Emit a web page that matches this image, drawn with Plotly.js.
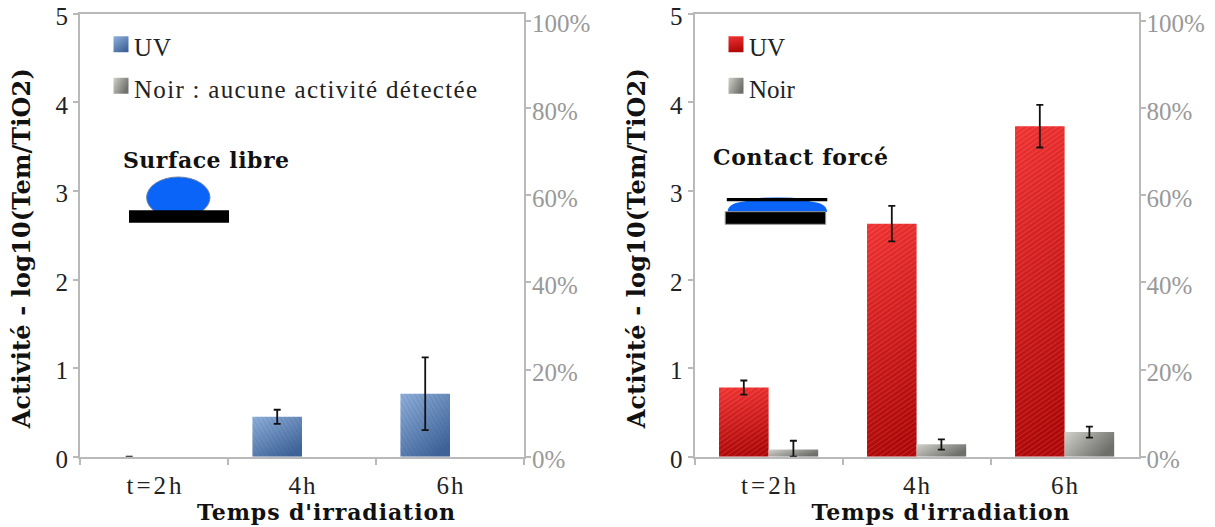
<!DOCTYPE html>
<html><head><meta charset="utf-8">
<script src="https://cdn.plot.ly/plotly-3.0.1.min.js"></script>
<style>html,body{margin:0;padding:0;background:#fff}#c{width:1215px;height:527px}</style>
</head><body><div id="c"></div>
<script>
const categories = ['t=2h', '4h', '6h'];
const libreUV = [0, 0.45, 0.71];
const libreUVErr = [0, 0.08, 0.41];
const libreNoir = [0, 0, 0];
const forceUV = [0.78, 2.63, 3.73];
const forceUVErr = [0.08, 0.2, 0.24];
const forceNoir = [0.08, 0.14, 0.28];
const forceNoirErrUp = [0.1, 0.055, 0.06];
const forceNoirErrDown = [0.08, 0.06, 0.065];
const yTicks = [0, 1, 2, 3, 4, 5];
const pctTicks = [0, 20, 40, 60, 80, 100];

const W = 1215, H = 527;
const SERIF = '"Liberation Serif", serif';
const BOLD = '"DejaVu Serif", serif';
const AXC = '#b9b9b9';
const px = v => v / W, py = v => 1 - v / H;
const TOP = 13.7, BOT = 456.7;
const errStyle = {color: '#111', thickness: 1.8, width: 3.5};

function bar(name, y, xa, ya, color, legend, group, err) {
  return {type: 'bar', name, x: categories, y, xaxis: xa, yaxis: ya, legend, legendgroup: group, cliponaxis: false,
    marker: {color, line: {width: 0}}, hoverinfo: 'x+y', error_y: err};
}
function arr(up, down) { return Object.assign({type: 'data', array: up, arrayminus: down || up, visible: true}, errStyle); }
function pctAnchor(xa, ya) {
  return {type: 'scatter', mode: 'lines', x: categories, y: [null, null, null], xaxis: xa, yaxis: ya, showlegend: false, hoverinfo: 'skip', line: {width: 0}};
}
const data = [
  bar('UV', libreUV, 'x', 'y', '#6a8dbd', 'legend', 'a', arr(libreUVErr)),
  bar('Noir : aucune activité détectée', libreNoir, 'x', 'y', '#a5a5a2', 'legend', 'b'),
  bar('UV', forceUV, 'x2', 'y3', '#d42222', 'legend2', 'c', arr(forceUVErr)),
  bar('Noir', forceNoir, 'x2', 'y3', '#a5a5a2', 'legend2', 'd', arr(forceNoirErrUp, forceNoirErrDown)),
  pctAnchor('x', 'y2'),
  pctAnchor('x2', 'y4')
];
const grads = ['gBlue', 'gGray', 'gRed', 'gGray'];
const stripes = ['sDark', null, 'sLight', null];

const xBase = {type: 'category', categories, categoryorder: 'array', categoryarray: categories, range: [-0.5, 2.5], layer: 'below traces',
  showline: true, linecolor: AXC, linewidth: 2, mirror: true, ticks: 'outside', tickson: 'boundaries', ticklen: 6, tickwidth: 2, tickcolor: AXC,
  showgrid: false, zeroline: false, tickfont: {family: SERIF, size: 25, color: '#222'}, ticklabelstandoff: 5, automargin: false,
  title: {text: "Temps d'irradiation", font: {family: BOLD, size: 22, weight: 700, color: '#111'}, standoff: 2}};
const yLeft = {range: [0, 5], tickmode: 'array', tickvals: yTicks, ticktext: yTicks.map(String), showline: true, linecolor: AXC, linewidth: 2,
  ticks: 'outside', ticklen: 5, tickwidth: 2, tickcolor: AXC, showgrid: false, zeroline: false, tickfont: {family: SERIF, size: 25, color: '#222'},
  automargin: false, title: {text: 'Activité - log10(Tem/TiO2)', font: {family: BOLD, size: 24, weight: 700, color: '#111'}, standoff: 18}};
const yRight = {range: [0, 101.6], tickmode: 'array', tickvals: pctTicks, ticktext: pctTicks.map(v => v + '%'), side: 'right', showline: true, linecolor: AXC, linewidth: 2,
  ticks: 'outside', ticklen: 5, tickwidth: 2, tickcolor: AXC, showgrid: false, zeroline: false, tickfont: {family: SERIF, size: 25, color: '#999'}, ticklabelstandoff: -4, automargin: false};

const yDom = [py(BOT), py(TOP)];
const blue = '#0a64f8';
const shapes = [
  {type: 'circle', xref: 'paper', yref: 'paper', x0: px(146.6), x1: px(210), y0: py(177), y1: py(218), fillcolor: blue, line: {color: '#6a7f9f', width: 1}},
  {type: 'rect', xref: 'paper', yref: 'paper', x0: px(129), x1: px(229), y0: py(210.3), y1: py(222.7), fillcolor: '#000', line: {width: 0}},
  {type: 'circle', xref: 'paper', yref: 'paper', x0: px(745), x1: px(810), y0: py(197.2), y1: py(206), fillcolor: '#5a8fe8', line: {width: 0}},
  {type: 'path', xref: 'paper', yref: 'paper', fillcolor: blue, line: {width: 0},
    path: `M${px(727.6)},${py(212)} C${px(727.6)},${py(205)} ${px(735)},${py(202)} ${px(748)},${py(201)} L${px(806)},${py(201)} C${px(820)},${py(202)} ${px(827)},${py(205)} ${px(827)},${py(212)} Z`},
  {type: 'rect', xref: 'paper', yref: 'paper', x0: px(726.8), x1: px(827.3), y0: py(198), y1: py(201.3), fillcolor: '#000', line: {width: 0}},
  {type: 'rect', xref: 'paper', yref: 'paper', x0: px(725.2), x1: px(825.7), y0: py(211.7), y1: py(224.3), fillcolor: '#000', line: {color: '#999', width: 1}}
];
const legendBase = {bgcolor: 'rgba(0,0,0,0)', borderwidth: 0, xanchor: 'left', yanchor: 'top', tracegroupgap: 6, itemclick: false, itemdoubleclick: false,
  font: {family: SERIF, size: 25, color: '#222'}, itemwidth: 30};
const note = (text, x, y) => ({text, xref: 'paper', yref: 'paper', x: px(x), y: py(y), xanchor: 'center', yanchor: 'middle', showarrow: false, font: {family: BOLD, size: 22, weight: 700, color: '#111'}});

const layout = {
  width: W, height: H, margin: {l: 0, r: 0, t: 0, b: 0}, paper_bgcolor: '#fff', plot_bgcolor: '#fff', showlegend: true, barmode: 'group', bargap: 0.33, bargroupgap: 0,
  font: {family: SERIF},
  xaxis: Object.assign({}, xBase, {domain: [px(80), px(524)], anchor: 'y'}),
  xaxis2: Object.assign({}, xBase, {domain: [px(694.6), px(1138.6)], anchor: 'y3'}),
  yaxis: Object.assign({}, yLeft, {domain: yDom, anchor: 'x'}),
  yaxis2: Object.assign({}, yRight, {domain: yDom, anchor: 'x', overlaying: 'y'}),
  yaxis3: Object.assign({}, yLeft, {domain: yDom, anchor: 'x2'}),
  yaxis4: Object.assign({}, yRight, {domain: yDom, anchor: 'x2', overlaying: 'y3'}),
  legend: Object.assign({}, legendBase, {x: px(94), y: py(23.5)}),
  legend2: Object.assign({}, legendBase, {x: px(709), y: py(23.5)}),
  shapes,
  annotations: [note('Surface libre', 206, 160), note('Contact forcé', 800, 157)]
};

Plotly.newPlot('c', data, layout, {displayModeBar: false, responsive: false}).then(gd => {
  const NS = 'http://www.w3.org/2000/svg';
  const svg = gd.querySelector('svg.main-svg');
  const defs = svg.querySelector('defs') || svg.insertBefore(document.createElementNS(NS, 'defs'), svg.firstChild);
  function lin(id, x1, y1, x2, y2, a, b) {
    const g = document.createElementNS(NS, 'linearGradient');
    g.id = id;
    [['x1', x1], ['y1', y1], ['x2', x2], ['y2', y2]].forEach(p => g.setAttribute(p[0], p[1]));
    [[0, a], [1, b]].forEach(s => { const t = document.createElementNS(NS, 'stop'); t.setAttribute('offset', s[0]); t.setAttribute('stop-color', s[1]); g.appendChild(t); });
    defs.appendChild(g);
  }
  lin('gBlue', 0, 0, 0.7, 1, '#8fb0da', '#3f6399');
  lin('gRed', 0, 0, 0.15, 1, '#f03232', '#b00808');
  lin('gGray', 0, 0, 1, 0.5, '#d2d2cc', '#6e6e6a');
  function stripe(id, col, angle) {
    const p = document.createElementNS(NS, 'pattern');
    p.id = id; p.setAttribute('patternUnits', 'userSpaceOnUse'); p.setAttribute('width', 4); p.setAttribute('height', 4);
    p.setAttribute('patternTransform', 'rotate(' + angle + ')');
    const r = document.createElementNS(NS, 'rect'); r.setAttribute('width', 4); r.setAttribute('height', 1); r.setAttribute('fill', col);
    p.appendChild(r); defs.appendChild(p);
  }
  stripe('sDark', 'rgba(40,70,120,0.14)', 60);
  stripe('sLight', 'rgba(255,255,255,0.13)', -35);
  gd.querySelectorAll('.barlayer .trace').forEach(t => {
    const i = t.__data__[0].trace.index;
    t.querySelectorAll('.point path').forEach(p => {
      p.style.fill = 'url(#' + grads[i] + ')';
      if (stripes[i]) {
        const c = p.cloneNode(false);
        c.style.fill = 'url(#' + stripes[i] + ')';
        c.style.pointerEvents = 'none';
        p.parentNode.insertBefore(c, p.nextSibling);
      }
    });
  });
  const fit = (t, w) => { t.setAttribute('textLength', w); t.setAttribute('lengthAdjust', 'spacing'); };
  const nudge = (e, s) => e.setAttribute('transform', s + ' ' + (e.getAttribute('transform') || ''));
  gd.querySelectorAll('.legend .scrollbox, .legend2 .scrollbox').forEach(s => s.removeAttribute('clip-path'));
  gd.querySelectorAll('.legend .traces, .legend2 .traces').forEach(t => {
    const d = t.__data__[0];
    const i = (d.trace || d[0].trace).index;
    t.querySelectorAll('g.legendpoints path').forEach(p => {
      p.style.fill = 'url(#' + grads[i] + ')';
      p.setAttribute('transform', 'translate(27,-2) scale(1.25,1.33)');
    });
    const tx = t.querySelector('text.legendtext');
    if (tx && tx.textContent.length > 10) fit(tx, 343);
    else if (tx && tx.textContent === 'Noir') fit(tx, 50);
    else if (tx) fit(tx, 37);
  });
  gd.querySelectorAll('.xtick text, .x2tick text').forEach(t => { if (t.textContent.length > 2) fit(t, 55); else fit(t, 27); });
  gd.querySelectorAll('.ytick text, .y3tick text').forEach(t => nudge(t, 'translate(0,2.5)'));
  gd.querySelectorAll('.y2tick text, .y4tick text').forEach(t => nudge(t, 'translate(0,3)'));
  gd.querySelectorAll('.xtitle, .x2title').forEach(e => { fit(e, 258); nudge(e, 'translate(24,0)'); });
  gd.querySelectorAll('.ytitle, .y3title').forEach(e => { fit(e, 360); nudge(e, 'translate(0,13)'); });
  gd.querySelectorAll('.annotation-text').forEach(e => { fit(e, e.textContent.startsWith('Surface') ? 166 : 175); });
});
</script></body></html>
